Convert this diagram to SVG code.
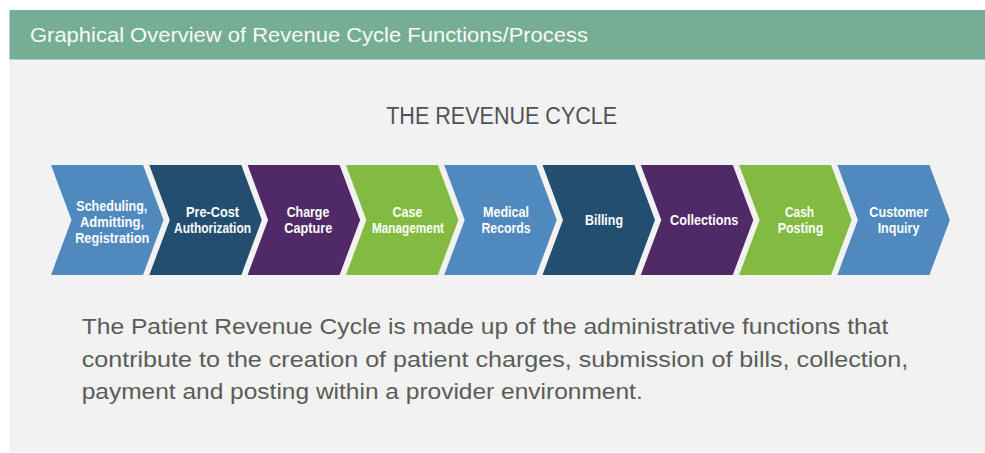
<svg xmlns="http://www.w3.org/2000/svg" xmlns:xlink="http://www.w3.org/1999/xlink" width="985" height="453" viewBox="0 0 985 453">
  <style>
    .panel { fill: #f2f2f2; }
    .header { fill: #75ad95; }
    .header-text { font-family: "Liberation Sans", Arial, sans-serif; font-size: 20.5px; fill: #fbfbf7; }
    .title { font-family: "Liberation Sans", Arial, sans-serif; font-size: 24.5px; fill: #4f5359; text-anchor: middle; }
    .label { font-family: "Liberation Sans Narrow", "Liberation Sans", Arial, sans-serif; font-weight: bold; font-size: 15px; fill: #ffffff; text-anchor: middle; }
    .body { font-family: "Liberation Sans", Arial, sans-serif; font-size: 21.5px; fill: #5b5b5b; }
    .blue { fill: #4f89be; }
    .navy { fill: #244e6f; }
    .purple { fill: #4f2a67; }
    .green { fill: #83bb42; }
  </style>
  <defs>
    <!-- one chevron step: 92 wide body, 20.5 deep notch and point -->
    <path id="chev" d="M0,165 H92 L112.5,220 L92,275 H0 L20.5,220 Z"/>
  </defs>

  <!-- background panel and header band -->
  <rect class="panel" x="9.5" y="59" width="975.5" height="393"/>
  <rect class="header" x="9.5" y="10" width="975.5" height="49.5"/>
  <text class="header-text" x="30" y="42.3" textLength="558" lengthAdjust="spacingAndGlyphs">Graphical Overview of Revenue Cycle Functions/Process</text>

  <text class="title" x="501.7" y="124" textLength="231" lengthAdjust="spacingAndGlyphs">THE REVENUE CYCLE</text>

  <!-- process steps -->
  <g id="step-scheduling">
    <use xlink:href="#chev" href="#chev" class="blue" x="51"/>
    <text class="label" x="111.8" y="210.7" textLength="71" lengthAdjust="spacingAndGlyphs">Scheduling,</text>
    <text class="label" x="112" y="226.7" textLength="64" lengthAdjust="spacingAndGlyphs">Admitting,</text>
    <text class="label" x="112.2" y="242.7" textLength="74" lengthAdjust="spacingAndGlyphs">Registration</text>
  </g>
  <g id="step-precost">
    <use xlink:href="#chev" href="#chev" class="navy" x="149.3"/>
    <text class="label" x="212.5" y="216.7" textLength="53" lengthAdjust="spacingAndGlyphs">Pre-Cost</text>
    <text class="label" x="212.5" y="232.5" textLength="77" lengthAdjust="spacingAndGlyphs">Authorization</text>
  </g>
  <g id="step-charge">
    <use xlink:href="#chev" href="#chev" class="purple" x="247.6"/>
    <text class="label" x="308" y="216.7" textLength="42.7" lengthAdjust="spacingAndGlyphs">Charge</text>
    <text class="label" x="308.3" y="232.5" textLength="48" lengthAdjust="spacingAndGlyphs">Capture</text>
  </g>
  <g id="step-case">
    <use xlink:href="#chev" href="#chev" class="green" x="345.9"/>
    <text class="label" x="407.5" y="216.7" textLength="30" lengthAdjust="spacingAndGlyphs">Case</text>
    <text class="label" x="408" y="232.5" textLength="72" lengthAdjust="spacingAndGlyphs">Management</text>
  </g>
  <g id="step-medical">
    <use xlink:href="#chev" href="#chev" class="blue" x="444.2"/>
    <text class="label" x="506" y="216.7" textLength="46" lengthAdjust="spacingAndGlyphs">Medical</text>
    <text class="label" x="506" y="232.5" textLength="49" lengthAdjust="spacingAndGlyphs">Records</text>
  </g>
  <g id="step-billing">
    <use xlink:href="#chev" href="#chev" class="navy" x="542.5"/>
    <text class="label" x="604" y="225" textLength="38" lengthAdjust="spacingAndGlyphs">Billing</text>
  </g>
  <g id="step-collections">
    <use xlink:href="#chev" href="#chev" class="purple" x="640.8"/>
    <text class="label" x="704.2" y="225" textLength="68.3" lengthAdjust="spacingAndGlyphs">Collections</text>
  </g>
  <g id="step-cash">
    <use xlink:href="#chev" href="#chev" class="green" x="739.1"/>
    <text class="label" x="799.5" y="216.7" textLength="29" lengthAdjust="spacingAndGlyphs">Cash</text>
    <text class="label" x="800.5" y="232.5" textLength="45.7" lengthAdjust="spacingAndGlyphs">Posting</text>
  </g>
  <g id="step-inquiry">
    <use xlink:href="#chev" href="#chev" class="blue" x="837.4"/>
    <text class="label" x="898.8" y="216.7" textLength="59" lengthAdjust="spacingAndGlyphs">Customer</text>
    <text class="label" x="898.5" y="232.5" textLength="41.7" lengthAdjust="spacingAndGlyphs">Inquiry</text>
  </g>

  <!-- the chevrons abut directly, so there are no separate connector lines -->
  <g id="connectors"/>

  <!-- description -->
  <text class="body" x="81.7" y="334.3" textLength="806.6" lengthAdjust="spacingAndGlyphs">The Patient Revenue Cycle is made up of the administrative functions that</text>
  <text class="body" x="81.7" y="366.5" textLength="826.6" lengthAdjust="spacingAndGlyphs">contribute to the creation of patient charges, submission of bills, collection,</text>
  <text class="body" x="81.7" y="398.7" textLength="561" lengthAdjust="spacingAndGlyphs">payment and posting within a provider environment.</text>
</svg>
